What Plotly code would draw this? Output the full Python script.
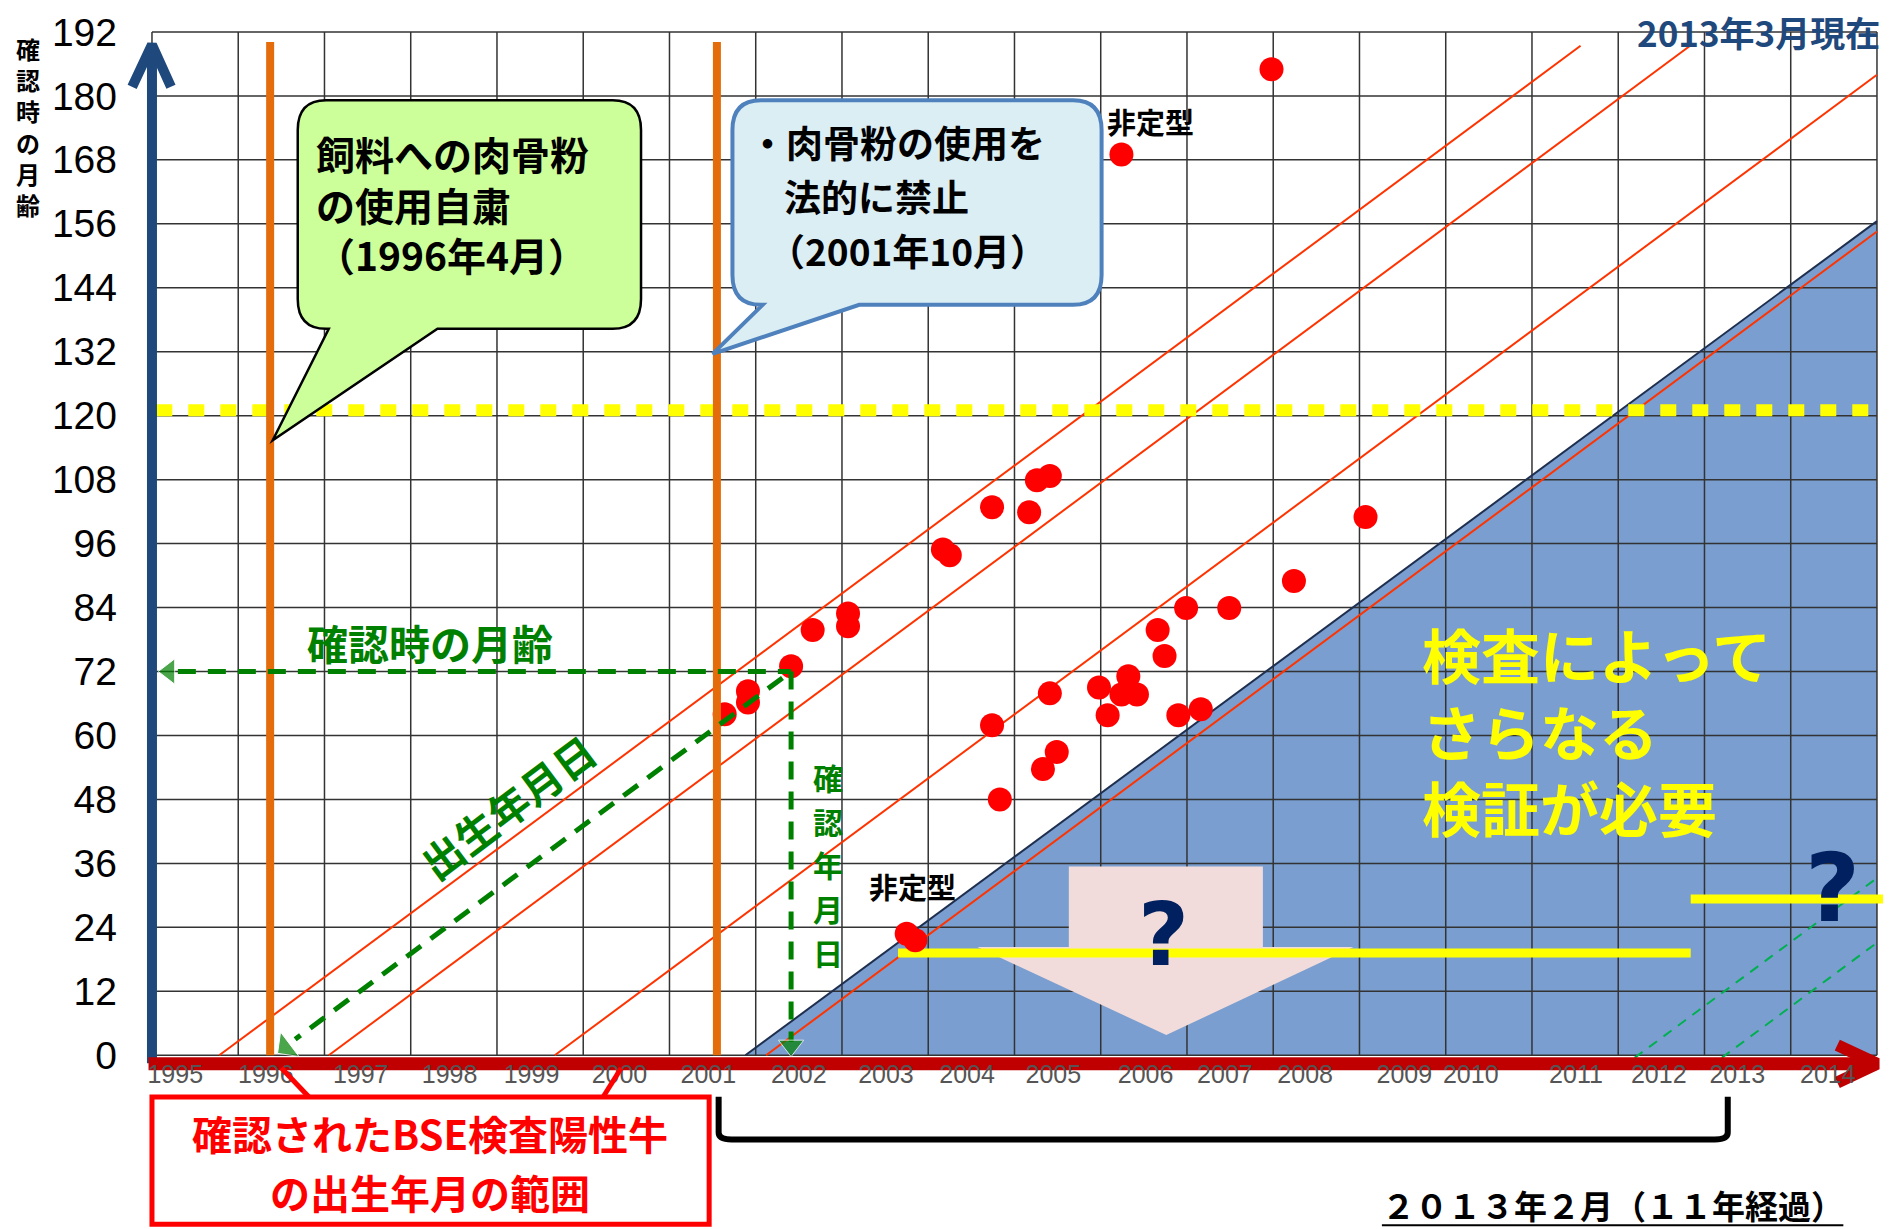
import plotly.graph_objects as go

# ---------------- axis ranges (years / months) ----------------
XMIN, XMAX = 1994.606, 2015.151
YMIN, YMAX = -7.08, 194.05

years = list(range(1995, 2015))
year_label_pos = [1995.27, 1996.32, 1997.42, 1998.45, 1999.40, 2000.42, 2001.45,
                  2002.50, 2003.51, 2004.45, 2005.45, 2006.52, 2007.44, 2008.37,
                  2009.52, 2010.29, 2011.51, 2012.47, 2013.38, 2014.43]
year_labels = [str(y) for y in years]
age_ticks = list(range(0, 193, 12))
grid_years = list(range(1995, 2016))

# ---------------- BSE positive cases (confirmation date, age in months) ----------------
case_date = [2001.64, 2001.91, 2001.91, 2002.41, 2002.66, 2003.07, 2003.07, 2003.75,
             2003.85, 2004.17, 2004.25, 2004.74, 2005.17, 2005.26, 2005.41, 2004.74,
             2004.83, 2005.33, 2005.49, 2005.41, 2005.98, 2006.08, 2006.24, 2006.42,
             2006.32, 2006.66, 2006.74, 2006.90, 2007.16, 2006.99, 2007.49, 2008.24,
             2009.07, 2006.24, 2007.98]
case_age = [64.0, 68.3, 66.2, 73.0, 79.8, 82.9, 80.5, 22.8,
            21.6, 94.9, 93.8, 102.8, 101.9, 107.9, 108.7, 61.9,
            48.0, 53.7, 56.9, 67.9, 69.0, 63.8, 67.7, 67.7,
            71.1, 79.8, 74.9, 63.8, 64.9, 83.9, 83.9, 89.0,
            101.0, 169.0, 185.0]

# birth-date diagonals (red) and their max age
diag_birth = [1995.78, 1997.05, 1999.67, 2002.12]
diag_max_age = 189.4
# future birth-date diagonals (green dashed)
future_birth = [2012.23, 2013.24]

# feed ban dates (orange verticals)
ban_dates = [1996.37, 2001.55]
ban_top = 190.1

# area born after legal ban (blue triangle)
ban_line_start = 2001.88
tri_top_age = 156.5

# testing age thresholds (yellow)
test_age = [19.2, 29.3]
test_from = [2003.65, 2012.84]
test_to = [2012.84, 2015.07]
old_age_line = 121.0

# example case (green dashed arrows)
ex_date, ex_age = 2002.41, 72.0

# pink block arrow
pink_rect_x = [2005.63, 2007.88]
pink_rect_y = [20.3, 35.4]
pink_head_x = [2004.57, 2008.93]
pink_tip = [2006.76, 3.8]


def xp(x):
    return (x - XMIN) / (XMAX - XMIN)


def yp(m):
    return (m - YMIN) / (YMAX - YMIN)


fig = go.Figure()


def add_line(x, y, color, width, dash=None):
    fig.add_trace(go.Scatter(x=x, y=y, mode="lines",
                             line=dict(color=color, width=width, dash=dash),
                             hoverinfo="skip", showlegend=False))


# blue triangle
fig.add_trace(go.Scatter(x=[ban_line_start, 2015, 2015, ban_line_start],
                         y=[0, tri_top_age, 0, 0], mode="lines", fill="toself",
                         fillcolor="#7A9ECF", line=dict(width=0, color="#7A9ECF"),
                         hoverinfo="skip", showlegend=False))

# grid
gx, gy = [], []
for yr in grid_years:
    gx += [yr, yr, None]
    gy += [0, 192, None]
for m in age_ticks:
    gx += [1995, 2015, None]
    gy += [m, m, None]
add_line(gx, gy, "#333333", 1.5)

# triangle edge
add_line([ban_line_start, 2015], [0, tri_top_age], "#1F2F4F", 2)

# red birth diagonals
for b in diag_birth:
    x_end = min(b + diag_max_age / 12.0, 2015.0)
    add_line([b, x_end], [0, (x_end - b) * 12], "#FF3300", 2)

# green future diagonals
for b in future_birth:
    add_line([b - 2.5 / 12, 2015.02], [-2.5, (2015.02 - b) * 12], "#00B050", 2, "10px,8px")

# pink block arrow
px_ = [pink_rect_x[0], pink_rect_x[1], pink_rect_x[1], pink_head_x[1], pink_tip[0],
       pink_head_x[0], pink_rect_x[0], pink_rect_x[0]]
py_ = [pink_rect_y[1], pink_rect_y[1], pink_rect_y[0], pink_rect_y[0], pink_tip[1],
       pink_rect_y[0], pink_rect_y[0], pink_rect_y[1]]
fig.add_trace(go.Scatter(x=px_, y=py_, mode="lines", fill="toself", fillcolor="#F2DCDB",
                         line=dict(width=0, color="#F2DCDB"), hoverinfo="skip", showlegend=False))

# yellow test thresholds
for a, f, t in zip(test_age, test_from, test_to):
    add_line([f, t], [a, a], "#FFFF00", 9)
add_line([1995.05, 2015], [old_age_line, old_age_line], "#FFFF00", 12, "16px,16px")

# dots
fig.add_trace(go.Scatter(x=case_date, y=case_age, mode="markers",
                         marker=dict(size=24, color="#FF0000"),
                         hoverinfo="skip", showlegend=False))

# orange ban lines
for d in ban_dates:
    add_line([d, d], [0, ban_top], "#E46C0A", 8)

# green dashed example arrows
g = "#008000"
add_line([1995.3, ex_date], [ex_age, ex_age], g, 5, "18px,12px")
add_line([ex_date, ex_date], [ex_age, 2.5], g, 5, "18px,12px")
ex_birth = ex_date - ex_age / 12
add_line([ex_date - 0.1, ex_birth + 0.25], [(ex_date - 0.1 - ex_birth) * 12, 0.25 * 12], g, 5, "18px,12px")
fig.add_trace(go.Scatter(x=[1995.2, ex_date, ex_birth + 0.14], y=[ex_age, 1.8, 1.5], mode="markers",
                         marker=dict(symbol=["triangle-left", "triangle-down", "triangle-sw"],
                                     angle=[0, 0, 8], size=[22, 22, 24], color=g),
                         hoverinfo="skip", showlegend=False))

# axis arrows
add_line([1995, 1995], [-1.5, 189.6], "#1F497D", 10)
add_line([1994.77, 1995, 1995.22], [181.7, 189.6, 181.7], "#1F497D", 10)
add_line([1994.96, 2015.0], [-1.6, -1.6], "#C00000", 13)
add_line([2014.54, 2015.0, 2014.54], [1.9, -1.6, -5.1], "#C00000", 12)


# callouts
def callout_path(x0, x1, yb, yt, rx, ry, b1, b2, tx, ty):
    return (f"M {x0 + rx},{yt} L {x1 - rx},{yt} Q {x1},{yt} {x1},{yt - ry} "
            f"L {x1},{yb + ry} Q {x1},{yb} {x1 - rx},{yb} L {b2},{yb} L {tx},{ty} L {b1},{yb} "
            f"L {x0 + rx},{yb} Q {x0},{yb} {x0},{yb + ry} L {x0},{yt - ry} Q {x0},{yt} {x0 + rx},{yt} Z")


fig.add_shape(type="path", xref="x", yref="y", layer="above",
              path=callout_path(1996.69, 2000.67, 136.3, 179.2, 0.33, 5.6, 1997.05, 1998.31, 1996.40, 115.4),
              fillcolor="#CCFF99", line=dict(color="black", width=2.5))
fig.add_shape(type="path", xref="x", yref="y", layer="above",
              path=callout_path(2001.73, 2006.01, 140.8, 179.2, 0.33, 5.6, 2002.08, 2003.2, 2001.5, 131.6),
              fillcolor="#DBEEF4", line=dict(color="#4F81BD", width=4))

# red box below axis
fig.add_shape(type="rect", xref="x", yref="paper", x0=1995.0, x1=2001.46,
              y0=yp(-31.7), y1=yp(-7.83), line=dict(color="#FF0000", width=5), fillcolor="white")
fig.add_shape(type="line", xref="x", yref="paper", x0=1996.82, y0=yp(-7.83), x1=1996.50, y1=yp(-2.4),
              line=dict(color="#FF0000", width=5))
fig.add_shape(type="line", xref="x", yref="paper", x0=2000.23, y0=yp(-7.83), x1=2000.44, y1=yp(-2.4),
              line=dict(color="#FF0000", width=5))

# bracket
bl, br, btop, bbot = 2001.57, 2013.27, -7.8, -15.8
fig.add_shape(type="path", xref="x", yref="paper",
              path=(f"M {bl},{yp(btop)} L {bl},{yp(bbot + 1.3)} Q {bl},{yp(bbot)} {bl + 0.15},{yp(bbot)} "
                    f"L {br - 0.15},{yp(bbot)} Q {br},{yp(bbot)} {br},{yp(bbot + 1.3)} L {br},{yp(btop)}"),
              line=dict(color="black", width=6))
fig.add_shape(type="line", xref="x", yref="paper", x0=2009.26, x1=2014.61, y0=yp(-31.9), y1=yp(-31.9),
              line=dict(color="black", width=2))

JP = "Noto Sans CJK JP"


def ann(text, x, y, size, color="black", xanchor="center", yanchor="middle", xref="x", yref="y",
        angle=0, align="center"):
    fig.add_annotation(text=text, x=x, y=y, xref=xref, yref=yref, showarrow=False,
                       xanchor=xanchor, yanchor=yanchor, textangle=angle, align=align,
                       font=dict(family=JP, size=size, color=color))


# callout texts
ann("<b>飼料への肉骨粉<br>の使用自粛<br>（1996年4月）</b>", 1996.88, 159.9, 39, xanchor="left", align="left")
for t, yy, xx in [("<b>・肉骨粉の使用を</b>", 171.3, 2001.90), ("<b>法的に禁止</b>", 161.2, 2002.30),
                  ("<b>（2001年10月）</b>", 151.1, 2002.12)]:
    ann(t, xx, yy, 37, xanchor="left")

ann("<b>非定型</b>", 2006.58, 175.2, 29)
ann("<b>非定型</b>", 2003.82, 31.7, 29)

ann("<b>確認時の月齢</b>", 1998.22, 77.5, 41, color=g)
ann("<b>出生年月日</b>", 1999.12, 46.8, 41, color=g, angle=-37)
# vertical label, one character per line
for i, ch in enumerate("確認年月日"):
    ann(f"<b>{ch}</b>", 2002.84, 52.2 - i * 8.2, 30, color=g)

ann("<b>検査によって<br>さらなる<br>検証が必要</b>", 2009.70, 61.0, 59, color="#FFFF00",
    xanchor="left", align="left")

fig.add_annotation(text="<b>?</b>", x=2006.73, y=22.6, showarrow=False,
                   font=dict(family="DejaVu Sans", size=88, color="#002060"))
fig.add_annotation(text="<b>?</b>", x=2014.48, y=31.3, showarrow=False,
                   font=dict(family="DejaVu Sans", size=95, color="#002060"))

ann("<b>2013年3月現在</b>", 2013.63, 192.1, 35, color="#1F497D")
ann("<b>確<br>認<br>時<br>の<br>月<br>齢</b>", xp(1993.56), yp(174.2), 24, xref="paper", yref="paper")
ann("<b>確認されたBSE検査陽性牛</b>", 1998.22, yp(-14.5), 40, color="#FF0000", yref="paper")
ann("<b>の出生年月の範囲</b>", 1998.22, yp(-25.7), 40, color="#FF0000", yref="paper")
ann("<b>２０１３年２月（１１年経過）</b>", xp(2011.94), yp(-28.0), 33, xref="paper", yref="paper")

fig.update_layout(
    width=1901, height=1229,
    margin=dict(l=118, r=11, t=14, b=136),
    plot_bgcolor="white", paper_bgcolor="white",
    showlegend=False, hovermode=False,
    xaxis=dict(range=[XMIN, XMAX], tickvals=year_label_pos, ticktext=year_labels,
               showgrid=False, zeroline=False, showline=False, ticks="",
               tickfont=dict(family="Liberation Sans", size=25, color="#555555"),
               ticklabelstandoff=-36),
    yaxis=dict(range=[YMIN, YMAX], tickvals=age_ticks, showgrid=False, zeroline=False,
               showline=False, ticks="",
               tickfont=dict(family="Liberation Sans", size=39, color="black")),
)

fig.write_html("out.html", config={"displayModeBar": False},
               post_script="document.body.style.margin='0px';")
